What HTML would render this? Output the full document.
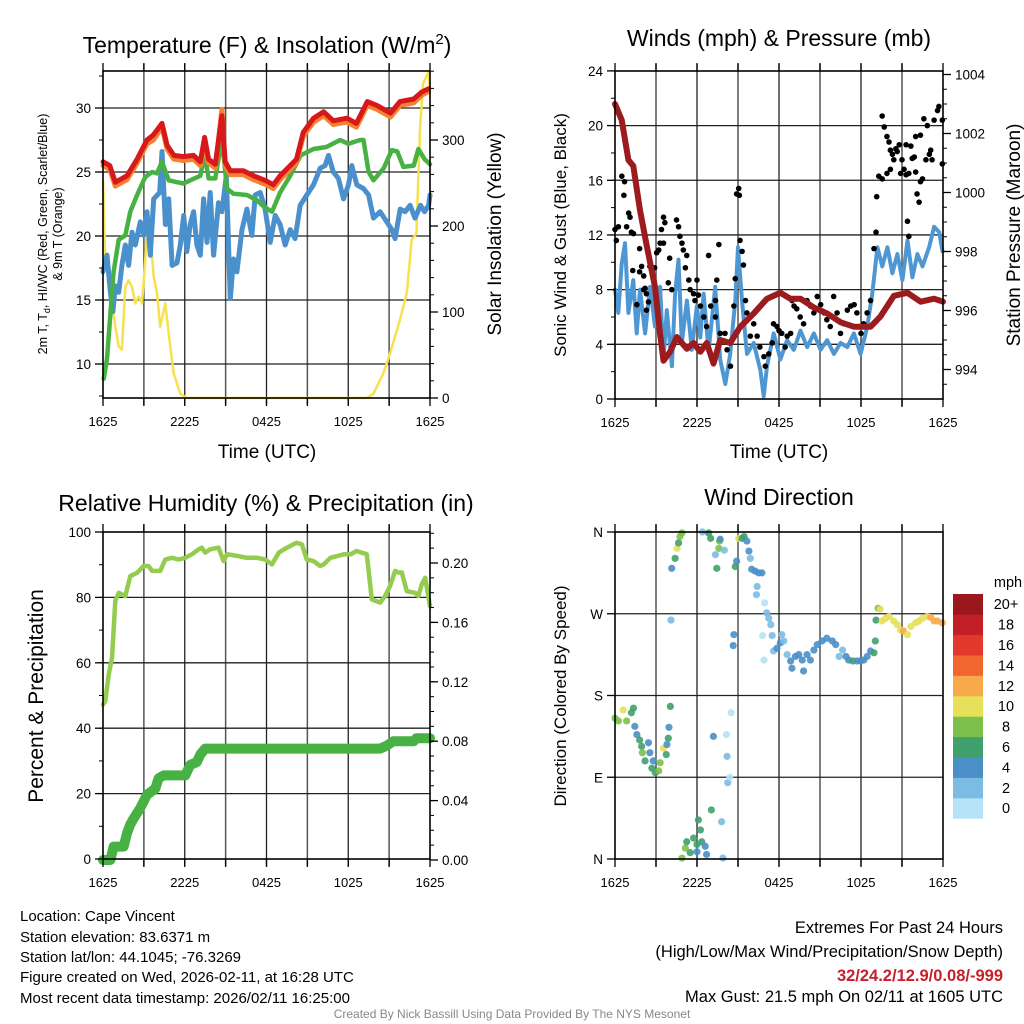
<!DOCTYPE html>
<html><head><meta charset="utf-8"><style>
html,body{margin:0;padding:0;background:#fff;}
svg{display:block;font-family:"Liberation Sans",Arial,sans-serif;}
</style></head><body>
<svg id="c" width="1024" height="1024" viewBox="0 0 1024 1024" xmlns="http://www.w3.org/2000/svg">
<g id="txt">
<text x="267" y="53" font-size="23" text-anchor="middle">Temperature (F) &amp; Insolation (W/m<tspan dy="-9" font-size="15">2</tspan><tspan dy="9">)</tspan></text>
<text x="779" y="46" font-size="23" text-anchor="middle">Winds (mph) &amp; Pressure (mb)</text>
<text x="266" y="511" font-size="23" text-anchor="middle">Relative Humidity (%) &amp; Precipitation (in)</text>
<text x="779" y="505" font-size="23" text-anchor="middle">Wind Direction</text>
<text x="267" y="458" font-size="19" text-anchor="middle">Time (UTC)</text>
<text x="779" y="458" font-size="19" text-anchor="middle">Time (UTC)</text>
<text transform="translate(47,234) rotate(-90)" font-size="12.5" text-anchor="middle">2m T, T<tspan dy="3" font-size="9">d</tspan><tspan dy="-3">, HI/WC (Red, Green, Scarlet/Blue)</tspan></text>
<text transform="translate(62,234) rotate(-90)" font-size="12.5" text-anchor="middle">&amp; 9m T (Orange)</text>
<text transform="translate(501,234) rotate(-90)" font-size="19" text-anchor="middle">Solar Insolation (Yellow)</text>
<text transform="translate(566,235) rotate(-90)" font-size="17" text-anchor="middle">Sonic Wind &amp; Gust (Blue, Black)</text>
<text transform="translate(1020,235) rotate(-90)" font-size="19" text-anchor="middle">Station Pressure (Maroon)</text>
<text transform="translate(43,696) rotate(-90)" font-size="21" text-anchor="middle">Percent &amp; Precipitation</text>
<text transform="translate(566,696) rotate(-90)" font-size="17" text-anchor="middle">Direction (Colored By Speed)</text>
<g font-size="15">
<text x="20" y="921">Location: Cape Vincent</text>
<text x="20" y="942">Station elevation: 83.6371 m</text>
<text x="20" y="962">Station lat/lon: 44.1045; -76.3269</text>
<text x="20" y="982">Figure created on Wed, 2026-02-11, at 16:28 UTC</text>
<text x="20" y="1003">Most recent data timestamp: 2026/02/11 16:25:00</text>
</g>
<g font-size="16.5" text-anchor="end">
<text x="1003" y="933">Extremes For Past 24 Hours</text>
<text x="1003" y="957">(High/Low/Max Wind/Precipitation/Snow Depth)</text>
<text x="1003" y="981" fill="#c8202a" font-weight="bold">32/24.2/12.9/0.08/-999</text>
<text x="1003" y="1002">Max Gust: 21.5 mph On 02/11 at 1605 UTC</text>
</g>
<text x="512" y="1018" font-size="12" fill="#888" text-anchor="middle">Created By Nick Bassill Using Data Provided By The NYS Mesonet</text>
</g>
</svg>
<script>
// ---------- data ----------
const timeLabels = ["1625","2225","0425","1025","1625"];
// Panel 1
const redT = [0,0.5,0.9,1.76,2.5,3.23,3.7,4.33,4.7,5.2,5.9,6.65,7.14,7.46,7.75,8.24,8.73,8.97,9.34,10.3,11.05,12.0,12.5,13.0,13.74,14.2,14.7,15.45,16.2,16.9,17.9,18.6,19.4,20.1,21.1,21.8,22.8,23.4,23.9];
const redV = [25.8,25.5,24.2,24.7,26.0,27.5,27.9,28.8,27.1,26.3,26.2,26.3,25.8,27.7,26.0,25.6,29.4,25.8,25.1,25.1,24.7,24.3,24.0,24.7,25.5,26.0,28.1,29.2,29.7,29.0,29.2,28.8,30.5,30.2,29.6,30.5,30.7,31.25,31.5];
const orangeV = [25.5,25.2,23.9,24.4,25.7,27.2,27.5,28.5,26.8,26.0,25.9,26.0,25.5,27.2,25.7,25.3,29.9,25.5,24.8,24.8,24.4,24.0,23.7,24.4,25.2,25.7,27.8,28.9,29.4,28.7,28.9,28.5,30.2,29.9,29.3,30.2,30.4,31.0,31.3];
const greenT = [0.05,0.29,0.78,1.15,1.64,2.0,2.5,3.1,3.6,3.96,4.33,4.82,5.43,5.92,6.4,7.14,7.46,7.75,8.24,8.73,9.1,9.58,10.56,11.3,11.8,12.4,13.0,13.74,14.5,15.45,16.4,17.4,18.0,18.87,19.12,19.49,19.85,20.6,21.2,21.6,22.05,22.8,23.15,23.6,24.0];
const greenV = [8.85,10.4,17.2,19.7,20.05,21.9,23.2,24.6,25.0,24.9,25.8,24.35,24.2,24.1,24.35,24.7,26.4,24.5,24.5,27.6,23.7,23.3,23.2,22.8,22.3,21.9,23.4,24.7,26.3,26.8,26.95,27.5,27.2,27.5,27.5,25.0,24.35,25.3,26.7,26.6,25.4,25.5,26.8,26.0,25.6];
const blueT = [0,0.29,0.54,0.73,0.9,1.15,1.39,1.64,1.88,2.13,2.37,2.74,2.98,3.23,3.47,3.72,4.16,4.33,4.58,4.82,5.07,5.43,5.67,5.92,6.16,6.4,6.65,6.89,7.14,7.38,7.63,7.87,8.12,8.48,8.73,9.05,9.34,9.58,9.83,10.2,10.56,10.93,11.17,11.54,11.9,12.27,12.64,13.0,13.37,13.74,14.1,14.47,14.96,15.45,15.94,16.3,16.55,16.9,17.28,17.65,18.02,18.26,18.63,19.12,19.49,19.85,20.34,20.83,21.2,21.44,21.81,22.17,22.54,22.9,23.3,23.6,23.9,24.0];
const blueV = [17.2,18.5,15.6,14.1,16.1,15.6,17.7,19.3,17.7,20.3,19.3,21.1,20.05,21.9,18.5,22.9,23.4,26.6,20.9,22.9,17.7,17.9,19.3,21.6,18.8,20.9,21.9,19.3,18.5,22.9,19.5,23.4,18.5,22.6,21.9,24.7,15.1,18.2,17.2,20.5,22.1,20.05,23.2,23.4,22.1,19.5,21.6,20.9,19.3,20.5,19.8,22.4,23.2,24.0,25.3,25.5,26.3,25.0,24.5,22.9,24.0,25.5,24.0,23.7,23.2,21.4,21.9,21.1,20.5,19.8,22.1,21.9,22.4,21.4,22.4,21.9,22.4,23.2];
const solarT = [0,0.17,0.54,0.9,1.15,1.39,1.64,1.88,2.13,2.37,2.62,2.86,3.1,3.28,3.47,3.72,3.96,4.2,4.57,4.82,5.18,5.67,6.16,19.36,19.85,20.58,21.07,21.8,22.3,22.66,23.0,23.27,23.5,23.88,24.0];
const solarV = [253,160,129,83,60,56,129,137,129,110,118,110,160,215,191,141,122,83,110,75,29,5,0,0,5,29,52,91,122,184,191,315,366,379,358];
// Panel 2
const windT = [0,0.24,0.49,0.73,0.98,1.34,1.59,1.83,2.2,2.57,2.93,3.3,3.55,3.79,4.16,4.4,4.65,4.89,5.26,5.62,5.99,6.24,6.48,6.85,7.33,7.7,8.07,8.43,8.8,9.0,9.29,9.66,10.15,10.64,10.88,11.12,11.61,12.1,12.59,13.08,13.57,14.06,14.55,15.04,15.53,16.02,16.51,17.0,17.48,17.97,18.46,18.83,19.2,19.56,19.93,20.3,20.66,21.03,21.4,21.76,22.13,22.5,22.98,23.35,23.72,23.96];
const windV = [8.0,6.3,9.9,11.4,6.3,8.7,4.8,8.0,4.8,8.2,5.3,8.2,2.85,6.5,2.4,7.7,10.2,4.1,7.2,3.6,6.8,4.5,7.7,3.5,8.2,2.9,1.1,3.3,7.2,11.1,7.2,3.3,4.1,2.1,0.2,2.4,4.8,2.9,4.3,3.6,5.0,3.8,4.8,3.6,4.3,3.3,4.1,3.8,4.8,3.3,5.3,7.7,11.1,9.7,11.1,9.2,10.6,8.7,11.6,8.9,10.6,9.7,11.1,12.6,12.2,10.8];
const gustT = [0,0.1,0.25,0.5,0.7,0.65,1.0,1.1,0.85,1.2,1.35,1.3,1.8,1.95,1.8,2.1,2.1,2.2,2.3,2.45,2.3,1.6,2.55,2.9,3.05,3.2,3.3,3.4,3.55,3.65,3.55,3.9,4.0,4.15,4.5,4.65,4.75,4.9,5.0,5.25,5.15,5.4,5.5,5.75,6.0,6.1,5.85,6.25,6.5,6.7,6.85,7.6,7.45,7.35,7.0,7.35,7.7,8.05,8.2,8.45,8.7,8.8,8.9,9.05,9.1,9.15,9.3,9.4,9.55,9.65,9.9,10.15,10.4,10.6,10.9,11.0,11.25,11.5,11.6,11.85,12.0,12.2,12.45,12.6,12.85,12.95,13.1,13.3,13.55,13.8,14.05,14.3,14.55,14.8,15.05,15.3,15.5,15.75,16.0,16.25,16.5,16.75,17.0,17.25,17.5,17.7,18.0,18.2,18.45,18.7,18.95,19.1,19.15,19.3,19.55,19.7,19.9,20.05,20.15,20.3,20.55,20.8,21.0,21.15,21.3,21.5,21.75,22.0,22.1,22.25,22.35,22.6,22.85,23.0,23.1,23.35,23.6,23.7,23.95,23.95,22.0,22.35,21.65,21.4,21.5,19.9,20.15,20.4,20.65,20.9,21.3,21.9,22.5,22.75,23.2,19.55];
const gustV = [12.4,11.6,12.6,16.3,15.9,14.9,13.6,13.3,12.6,12.2,12.1,9.4,11.0,9.7,9.3,9.0,8.0,8.1,7.7,7.1,6.5,6.9,9.7,9.6,10.7,10.9,11.4,12.4,13.3,12.9,11.4,8.5,10.3,8.0,13.1,12.6,11.9,11.4,10.9,10.5,9.6,8.7,8.0,7.7,8.7,7.6,7.2,6.8,6.0,5.3,10.5,11.3,8.7,7.2,6.8,6.0,4.8,4.8,3.6,2.4,6.8,8.8,15.0,15.4,14.9,11.6,10.8,9.8,7.2,6.3,4.6,5.5,4.6,3.8,3.1,2.4,3.3,4.1,5.5,5.3,5.0,4.8,3.8,4.6,4.8,7.2,6.8,6.6,6.0,5.5,7.2,6.8,6.3,7.5,6.9,6.3,5.8,5.3,7.5,6.3,4.8,5.5,6.5,6.8,6.9,6.3,4.8,5.5,6.3,7.2,11.0,12.2,14.8,16.3,20.7,19.9,19.2,18.8,18.2,17.9,18.3,18.6,17.5,16.8,18.6,16.5,17.6,16.6,15.0,14.4,15.9,20.5,20.0,17.9,18.2,20.4,21.1,21.4,20.4,17.2,19.2,19.3,18.5,13.0,11.9,16.5,16.8,17.5,18.1,16.5,16.4,17.7,16.1,17.5,17.5,16.1];
const presT = [0,0.49,0.98,1.34,1.83,2.32,2.93,3.3,3.55,4.03,4.52,5.26,5.75,6.24,6.72,7.21,7.7,8.43,9.17,10.15,11.12,12.1,12.83,13.57,14.55,15.53,16.51,17.48,18.7,19.43,20.41,21.39,22.37,23.35,24.0];
const presV = [1003.0,1002.46,1001.1,1000.9,999.4,998.2,996.8,995.2,994.3,994.6,995.1,994.7,994.9,994.6,994.9,994.2,995.0,994.9,995.45,995.9,996.4,996.6,996.4,996.4,996.1,995.9,995.6,995.45,995.45,995.8,996.5,996.6,996.3,996.4,996.3];
// Panel 3
const rhT = [0,0.17,0.42,0.66,0.9,1.15,1.64,2.0,2.49,2.98,3.35,3.6,4.2,4.57,5.07,5.55,6.04,6.53,7.02,7.26,7.5,7.87,8.48,8.85,9.1,9.83,10.56,11.3,11.9,12.4,12.9,13.5,14.2,14.6,14.96,15.45,15.94,16.2,16.7,17.7,18.2,18.6,19.36,19.73,20.34,20.7,21.07,21.44,21.68,21.93,22.3,22.9,23.15,23.4,23.65,24.0];
const rhV = [47.2,48.3,56.4,61.5,78.9,81.4,80.4,86.5,87.5,89.6,89.6,88.1,88.1,91.6,92.1,91.6,92.1,93.2,94.7,95.2,93.7,94.7,95.2,91.1,93.2,92.7,92.1,92.1,91.6,90.1,93.7,95.2,96.7,96.2,91.6,91.1,89.6,90.1,92.1,93.2,93.2,94.2,93.2,79.4,78.4,80.4,83.5,88.1,87.6,87.6,81.9,81.4,80.4,84.0,86.0,77.3];
const pcpT = [0,0.54,0.78,1.52,1.76,2.0,2.25,2.74,3.23,3.84,4.08,4.45,6.04,6.4,6.89,7.14,7.5,20.34,20.83,21.3,22.8,23.0,24.0];
const pcpV = [0,0,0.009,0.009,0.018,0.024,0.028,0.035,0.044,0.048,0.055,0.057,0.057,0.064,0.066,0.071,0.075,0.075,0.077,0.080,0.080,0.082,0.082];
// Panel 4
const dirT = [0.0,0.25,0.6,0.85,1.2,1.35,1.45,1.6,1.8,1.95,2.0,2.45,2.55,2.2,2.7,2.8,2.95,3.3,3.2,3.55,3.8,3.75,3.9,3.95,4.05,4.15,4.4,4.55,4.65,4.75,4.9,4.1,4.9,5.15,5.25,5.5,5.75,6.0,6.1,6.25,6.0,6.35,6.6,6.7,7.05,7.8,7.9,6.4,6.85,7.0,7.35,7.45,7.6,7.65,7.7,8.0,7.2,8.15,8.2,8.25,8.4,8.5,8.65,8.7,8.8,8.9,9.05,9.3,9.45,9.65,9.8,9.9,10.0,10.25,10.5,10.75,10.4,10.35,10.95,11.1,11.25,11.4,11.5,10.8,10.9,11.6,11.85,12.1,12.2,12.35,12.6,12.85,12.95,13.2,13.45,13.8,13.7,14.05,14.3,14.55,14.8,15.15,15.5,15.9,16.15,16.4,16.65,16.9,17.1,17.4,17.7,17.95,18.2,18.45,18.7,18.95,19.05,19.1,19.25,19.4,19.55,19.8,20.05,20.4,20.65,20.9,21.1,21.4,21.65,22.0,22.25,22.5,22.85,23.1,23.35,23.6,23.95];
const dirV = [155,152,164,152,161,166,146,137,131,124,117,128,117,108,100,108,95,106,97,122,126,115,133,145,168,320,331,342,348,355,359,263,1,12,19,7,23,16,43,32,8,19,14,5,54,41,1,360,359,353,335,320,342,350,352,340,135,137,113,84,90,161,235,247,322,328,353,353,355,350,339,331,319,317,315,315,300,291,282,271,265,258,246,246,219,229,232,238,247,240,225,218,210,223,225,207,219,225,219,230,236,240,243,240,236,223,230,223,219,218,218,218,219,223,229,227,240,263,276,275,262,265,267,262,258,252,251,247,256,260,262,265,267,266,262,262,260];
const dirSpd = [8,8,10,8,6,6,4,4,6,6,8,4,4,6,6,4,6,8,8,10,4,6,6,4,6,4,6,10,6,8,8,2,8,8,6,6,6,6,6,6,4,6,4,4,6,2,2,2,6,6,2,6,8,8,4,2,4,0,2,2,0,0,4,4,6,4,10,6,6,4,4,2,4,4,4,4,2,2,0,2,2,2,2,0,0,2,4,4,2,2,2,4,4,4,4,4,4,4,4,4,4,4,4,4,4,2,2,4,4,6,4,4,4,4,4,6,6,6,8,10,10,10,10,10,10,10,12,10,10,10,10,10,10,12,12,12,12];
const cbLabels = ["0","2","4","6","8","10","12","14","16","18","20+"];
const cbColors = ["#b5e3f7","#7cbbe4","#4a8fc6","#3fa06b","#7bc14a","#e6e05a","#f8aa4a","#f1672f","#e2392c","#c21f27","#9a171d"];

// ---------- drawing ----------
const NS = "http://www.w3.org/2000/svg";
const svg = document.getElementById('c');
function mk(tag, attrs, parent){ const e=document.createElementNS(NS,tag); for(const k in attrs) e.setAttribute(k,attrs[k]); (parent||svg).appendChild(e); return e; }
function panel(x0,x1,y0,y1,name){
  const g = mk('g',{});
  
  
  return {g,x0,x1,y0,y1,xs:h=>x0+(x1-x0)*h/24};
}
function grid(P, yvals, ys){
  for(let k=1;k<8;k++){ const x=P.xs(k*3);
    const l=mk('line',{x1:x,x2:x,y1:P.y0-7,y2:P.y1+7,stroke:k%2?'#555':'#222','stroke-width':k%2?1.5:1.3},P.g);
      }
  yvals.forEach(v=>{ const y=ys(v); const l=mk('line',{x1:P.x0,x2:P.x1,y1:y,y2:y,stroke:'#222','stroke-width':1.3},P.g);
      });
}
function frame(P){
  const r=mk('rect',{x:P.x0,y:P.y0,width:P.x1-P.x0,height:P.y1-P.y0,fill:'none',stroke:'#000','stroke-width':1.6},P.g);
   
  for(let k=0;k<=8;k++){ const x=P.xs(k*3);
    mk('line',{x1:x,x2:x,y1:P.y1,y2:P.y1+8,stroke:'#000','stroke-width':1.3},P.g);
    mk('line',{x1:x,x2:x,y1:P.y0,y2:P.y0-8,stroke:'#000','stroke-width':1.3},P.g); }
  timeLabels.forEach((t,i)=>{ const tx=mk('text',{x:P.xs(i*6),y:P.y1+28,'font-size':13,'text-anchor':'middle'},P.g); tx.textContent=t;
      });
}
function yaxis(P, side, majors, minors, ys, fmt){
  const x = side==='l'?P.x0:P.x1, d = side==='l'?-1:1;
  minors.forEach(v=>mk('line',{x1:x,x2:x+d*4,y1:ys(v),y2:ys(v),stroke:'#000','stroke-width':1},P.g));
  majors.forEach(v=>{ mk('line',{x1:x,x2:x+d*8,y1:ys(v),y2:ys(v),stroke:'#000','stroke-width':1.3},P.g);
    const tx=mk('text',{x:x+d*12,y:ys(v)+5,'font-size':13.5,'text-anchor':side==='l'?'end':'start'},P.g); tx.textContent=fmt(v);
      });
}
function line(P, T, V, ys, color, w, name){
  const d=T.map((t,i)=>(i?'L':'M')+P.xs(t).toFixed(1)+','+ys(V[i]).toFixed(1)).join('');
  const p=mk('path',{d,fill:'none',stroke:color,'stroke-width':w,'stroke-linejoin':'round','stroke-linecap':'round'},P.g);
  
  
}
function range(a,b,s){const r=[];for(let v=a;v<=b+1e-9;v+=s)r.push(+v.toFixed(4));return r;}

// Panel 1
const P1 = panel(103,430,71,398,'temperature-panel');
const y1L = v=>364-(v-10)*12.8, y1R = w=>398-w*0.86;
grid(P1,[10,15,20,25,30],y1L);
line(P1,solarT,solarV,y1R,'#f7e14d',2.5,'solar-insolation-line');
line(P1,blueT,blueV,y1L,'#4a90cc',5,'wind-chill-line');
line(P1,greenT,greenV,y1L,'#47b243',4.5,'dewpoint-line');
line(P1,redT,orangeV,y1L,'#f58231',5,'temp-9m-line');
line(P1,redT,redV,y1L,'#d7191c',5,'temp-2m-line');
frame(P1);
yaxis(P1,'l',range(10,30,5),range(7.5,32.5,2.5),y1L,v=>String(v));
yaxis(P1,'r',range(0,300,100),range(0,380,20),y1R,v=>String(v));

// Panel 2
const P2 = panel(615,943,71,399,'wind-panel');
const y2L = v=>399-v*13.67, y2R = p=>399-(p-993)*29.5;
grid(P2,range(4,20,4),y2L);
line(P2,windT,windV,y2L,'#4f97d3',4,'sonic-wind-line');
gustT.forEach((t,i)=>{ const c=mk('circle',{cx:P2.xs(t),cy:y2L(gustV[i]),r:2.8,fill:'#000'},P2.g);
    });
line(P2,presT,presV,y2R,'#9b1b1f',6,'pressure-line');
frame(P2);
yaxis(P2,'l',range(0,24,4),range(0,24,2),y2L,v=>String(v));
yaxis(P2,'r',range(994,1004,2),range(993.5,1004,0.5),y2R,v=>String(v));

// Panel 3
const P3 = panel(103,430,532,859,'humidity-panel');
const y3L = v=>859-v*3.27, y3R = p=>860-p*1485;
grid(P3,[20,40,60,80],y3L);
line(P3,rhT,rhV,y3L,'#93cc4f',4.5,'relative-humidity-line');
line(P3,pcpT,pcpV,y3R,'#47b243',10,'precipitation-line');
frame(P3);
yaxis(P3,'l',range(0,100,20),range(0,100,10),y3L,v=>String(v));
yaxis(P3,'r',range(0,0.2,0.04),range(0,0.22,0.01),y3R,v=>v.toFixed(2));

// Panel 4
const P4 = panel(615,943,532,859,'direction-panel');
const y4 = d=>859-d*327/360;
grid(P4,[90,180,270],y4);
dirT.forEach((t,i)=>{ const ci=Math.min(10,Math.round(dirSpd[i]/2));
  const c=mk('circle',{cx:P4.xs(t),cy:y4(dirV[i]),r:3.6,fill:cbColors[ci],'fill-opacity':0.9},P4.g);
    });
frame(P4);
yaxis(P4,'l',[0,90,180,270,360],[],y4,v=>['N','E','S','W','N'][v/90]);
// colorbar
const cb = mk('g',{});


const cbTop=594, cbH=20.4;
cbLabels.forEach((lab,i)=>{ const y=cbTop+(10-i)*cbH;
  const r=mk('rect',{x:953,y:y,width:30,height:cbH+0.3,fill:cbColors[i]},cb);
   
  const tx=mk('text',{x:1006,y:y+cbH/2+5,'font-size':14.5,'text-anchor':'middle'},cb); tx.textContent=lab;
    });
const mph=mk('text',{x:1008,y:587,'font-size':14.5,'text-anchor':'middle'},cb); mph.textContent='mph';
 
</script>
</body></html>
